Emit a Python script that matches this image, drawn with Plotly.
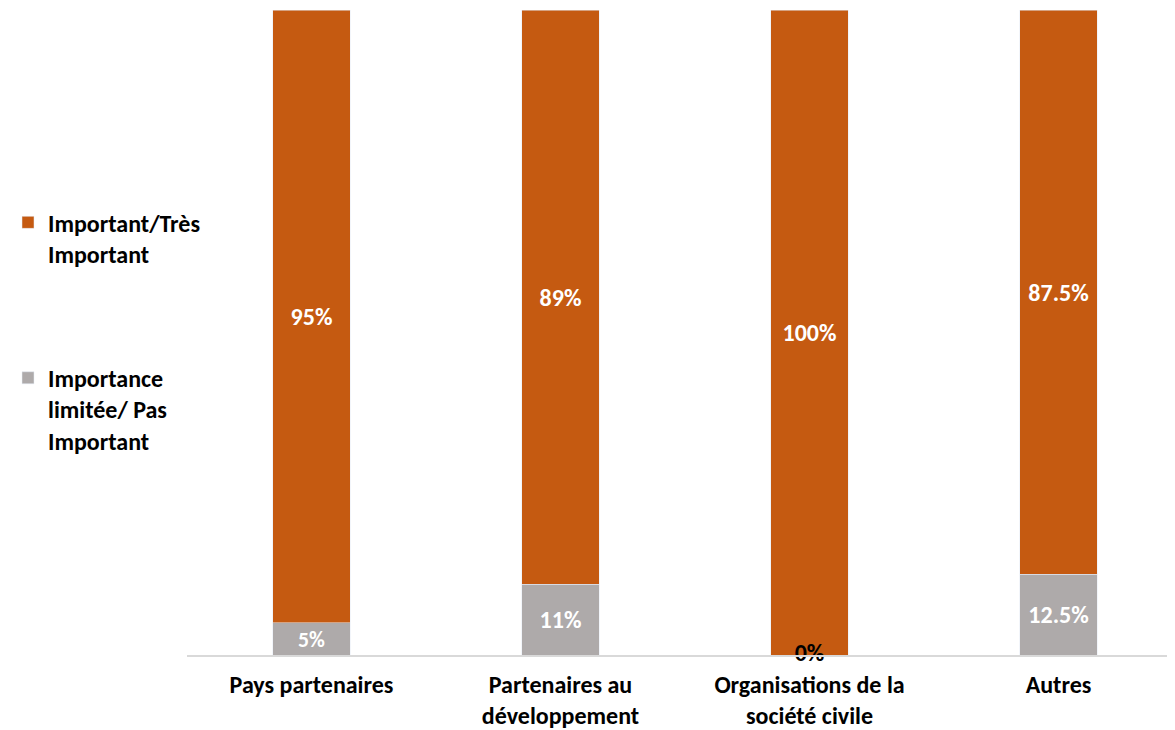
import plotly.graph_objects as go

# Données
categories = ["Pays partenaires", "Partenaires au<br>développement",
              "Organisations de la<br>société civile", "Autres"]
important = [95, 89, 100, 87.5]
limitee = [5, 11, 0, 12.5]

ORANGE = "#C55A11"
GRIS = "#AEAAAA"
FONT = "Calibri, Carlito, 'Open Sans', sans-serif"

x = list(range(len(categories)))


def pct(v):
    return f"{v:g}%"


fig = go.Figure()

# Importance limitée (bas de la pile)
fig.add_trace(go.Bar(
    x=x, y=limitee,
    name="Importance<br>limitée/ Pas<br>Important",
    marker_color=GRIS, width=0.31,
    text=[pct(v) if v > 0 else "" for v in limitee],
    textposition="inside", insidetextanchor="middle",
    textfont=dict(color="white", size=24, family=FONT, weight="bold"),
    legendgroup="g2", legendrank=2,
))

# Important / Très important
fig.add_trace(go.Bar(
    x=x, y=important,
    name="Important/Très<br>Important",
    marker_color=ORANGE, width=0.31,
    text=[pct(v) for v in important],
    textposition="inside", insidetextanchor="middle",
    textfont=dict(color="white", size=24, family=FONT, weight="bold"),
    legendgroup="g1", legendrank=1,
))

# Étiquettes des valeurs nulles (0%)
zx = [i for i, v in zip(x, limitee) if v == 0]
fig.add_trace(go.Scatter(
    x=zx, y=[0] * len(zx), mode="text",
    text=[pct(0)] * len(zx), textposition="middle center",
    textfont=dict(color="black", size=24, family=FONT, weight="bold"),
    showlegend=False, hoverinfo="skip", cliponaxis=False,
))

fig.update_layout(
    width=1175, height=730,
    barmode="stack",
    plot_bgcolor="white", paper_bgcolor="white",
    margin=dict(l=179, r=0, t=2, b=83),
    font=dict(family=FONT, size=24, color="black"),
    showlegend=True,
    uniformtext=dict(mode=False),
    legend=dict(
        x=-179 / 996, xanchor="left", y=0.705, yanchor="top",
        traceorder="grouped", tracegroupgap=90,
        valign="top", itemwidth=30,
        font=dict(family=FONT, size=24, color="black", weight="bold"),
    ),
    xaxis=dict(
        tickmode="array", tickvals=x, ticktext=[f"<b>{c}</b>" for c in categories],
        range=[-0.5, 3.5],
        showline=True, linecolor="#D9D9D9", linewidth=2,
        showgrid=False, zeroline=False, ticks="",
        ticklabelstandoff=7,
        tickfont=dict(family=FONT, size=24, color="black"),
    ),
    yaxis=dict(range=[0, 100], visible=False, showgrid=False),
)

fig.write_html("out.html")
